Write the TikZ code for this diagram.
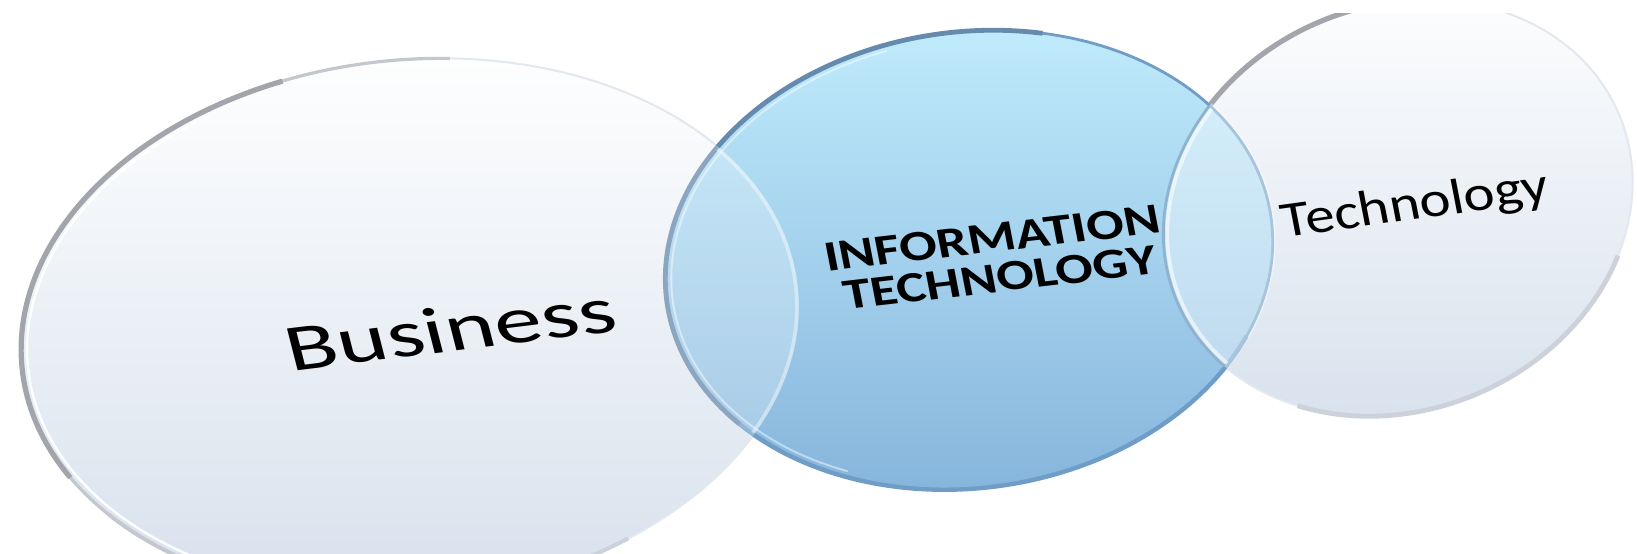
\documentclass[tikz,border=0pt]{standalone}
\usepackage{fontspec}
\setmainfont{Carlito}
\definecolor{lbot}{HTML}{D6E0EC}
\definecolor{lmid}{HTML}{EEF3F9}
\definecolor{btop}{HTML}{C2EDFD}
\definecolor{bmid}{HTML}{A4D3F2}
\definecolor{bbot}{HTML}{84B3DB}
\definecolor{bedge}{HTML}{6F9DC7}
\definecolor{bedgedk}{HTML}{6689AE}
\definecolor{gedge}{HTML}{A2A6AC}
\definecolor{gedgelt}{HTML}{C4C8CE}
\definecolor{rimlt}{HTML}{E3E8EF}
\definecolor{shad}{HTML}{CDD2DA}
\definecolor{redge}{HTML}{8FB2CF}
\begin{document}
\begin{tikzpicture}[x=0.5pt,y=0.5pt,
  lell/.style={shift={(410,225)},rotate=6},
  bell/.style={shift={(969,293)},rotate=8},
  rell/.style={shift={(1398,345)},rotate=23},
  lbl/.style={text=black, inner sep=0pt}]
\useasboundingbox (0,0) rectangle (1637,553);
\fill[white] (0,0) rectangle (1637,553);

% ---- left ellipse (Business)
\shade[lell, top color=white, middle color=lmid, bottom color=lbot] (0,0) ellipse (195pt and 134pt);
\draw[lell, rimlt, line width=1pt] (0,0) ellipse (195pt and 134pt);
\draw[lell, shad, line width=2pt] (215:195pt and 134pt) arc[start angle=215, end angle=300, x radius=195pt, y radius=134pt];
\draw[lell, gedgelt, line width=1.6pt] (80:195pt and 134pt) arc[start angle=80, end angle=235, x radius=195pt, y radius=134pt];
\draw[lell, gedge, line width=2.6pt] (105:195pt and 134pt) arc[start angle=105, end angle=205, x radius=195pt, y radius=134pt];
\draw[lell, white, line width=1.2pt] (120:192pt and 131pt) arc[start angle=120, end angle=250, x radius=192pt, y radius=131pt];

% ---- right ellipse (Technology), cut at the top
\begin{scope}
\clip (0,0) rectangle (1637,539);
\shade[rell, top color=white, middle color=lmid, bottom color=lbot] (0,0) ellipse (120pt and 101pt);
\draw[rell, rimlt, line width=1pt] (0,0) ellipse (120pt and 101pt);
\draw[rell, shad, line width=2.4pt] (225:120pt and 101pt) arc[start angle=225, end angle=320, x radius=120pt, y radius=101pt];
\draw[rell, gedgelt, line width=1.6pt] (60:120pt and 101pt) arc[start angle=60, end angle=200, x radius=120pt, y radius=101pt];
\draw[rell, gedge, line width=2.6pt] (75:120pt and 101pt) arc[start angle=75, end angle=165, x radius=120pt, y radius=101pt];
\end{scope}

% ---- blue circle (Information Technology)
\shade[bell, top color=btop, middle color=bmid, bottom color=bbot] (0,0) ellipse (152.5pt and 114pt);
\draw[bell, bedge, line width=1.4pt] (0,0) ellipse (152.5pt and 114pt);
\draw[bell, bedgedk, line width=2.4pt] (70:152.5pt and 114pt) arc[start angle=70, end angle=215, x radius=152.5pt, y radius=114pt];
\draw[bell, bedge, line width=2.2pt] (215:152.5pt and 114pt) arc[start angle=215, end angle=330, x radius=152.5pt, y radius=114pt];
\draw[bell, white, opacity=.45, line width=1pt] (100:149.5pt and 111pt) arc[start angle=100, end angle=240, x radius=149.5pt, y radius=111pt];

% ---- overlaps
\begin{scope}
\clip[lell] (0,0) ellipse (195pt and 134pt);
\fill[bell, white, opacity=.25] (0,0) ellipse (154pt and 115.5pt);
\end{scope}
\begin{scope}
\clip (0,0) rectangle (1637,539);
\clip[rell] (0,0) ellipse (120pt and 101pt);
\fill[bell, white, opacity=.4] (0,0) ellipse (154pt and 115.5pt);
\end{scope}
\begin{scope}
\clip[bell] (0,0) ellipse (152pt and 113.5pt);
\draw[lell, white, opacity=.4, line width=1.8pt] (0,0) ellipse (194pt and 133pt);
\draw[rell, white, opacity=.6, line width=1.8pt] (0,0) ellipse (118pt and 99pt);
\draw[rell, redge, line width=1.4pt] (0,0) ellipse (120pt and 101pt);
\end{scope}

% ---- labels
\coordinate (pbiz) at (456,202);
\coordinate (pit) at (996,295);
\coordinate (ptec) at (1418,334);
\node[lbl, anchor=base, font=\fontsize{33}{38}\selectfont, xscale=1.45, rotate=10] (biz) at (pbiz) {Business};
\node[lbl, anchor=center, align=center, font=\fontsize{21.5}{20}\selectfont\bfseries, xscale=1.29, rotate=8.5] (infotech) at (pit) {INFORMATION\\TECHNOLOGY};
\node[lbl, anchor=base, font=\fontsize{25}{30}\selectfont, xscale=1.18, rotate=9.3] (tech) at (ptec) {Technology};
\end{tikzpicture}
\end{document}
